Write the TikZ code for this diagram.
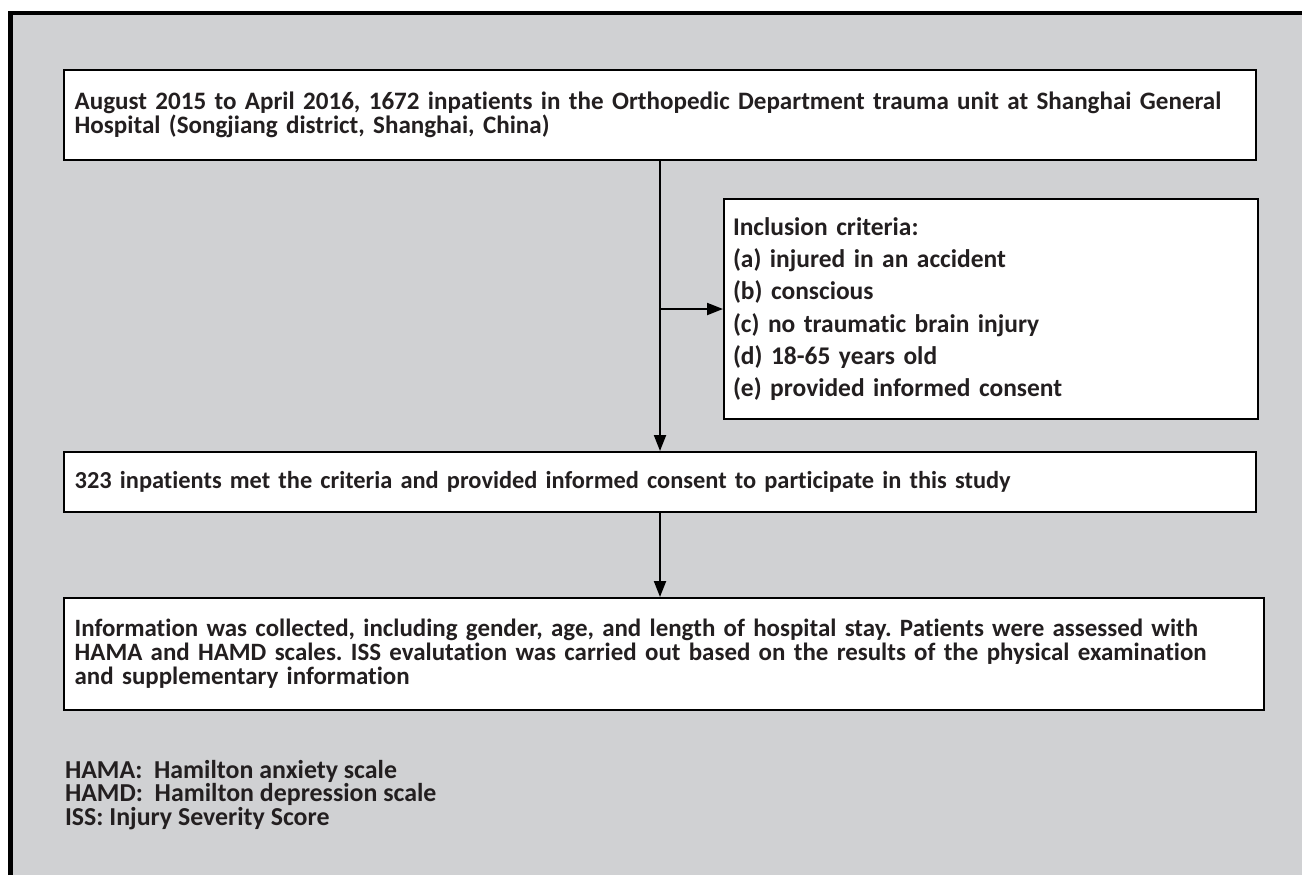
\documentclass[tikz,border=0pt]{standalone}
\usepackage{fontspec}
\setmainfont{Carlito}[Ligatures=NoCommon]
\usetikzlibrary{arrows.meta}
\definecolor{panel}{RGB}{208,209,211}
\definecolor{ink}{RGB}{35,31,32}
\frenchspacing

\begin{document}
\begin{tikzpicture}[>={Triangle[length=12pt, width=9pt]}, x=0.75pt, y=-0.75pt]
    \tikzstyle{box} = [draw=black, line width=1.5pt, fill=white, text=ink,
	align=left, inner xsep=8pt, font=\fontsize{18.8}{16.9}\selectfont\bfseries]
	\useasboundingbox (0,0) rectangle (1302,875);
	\fill[panel] (13,15) rectangle (1302,875);
	\draw[line width=3.4pt] (10.5,875) -- (10.5,13) -- (1302,13);
	\begin{scope}
		\path[->, line width=1.5pt]
			node[box, text width=878pt, minimum height=67.5pt] (start) at (660,115)
				{August 2015 to April 2016, 1672 inpatients in the Orthopedic Department trauma unit at Shanghai General\\
				 Hospital (Songjiang district, Shanghai, China)}
			node[box, text width=387pt, inner xsep=6.75pt, minimum height=165pt,
				font=\fontsize{19.1}{24.1}\selectfont\bfseries] (crit) at (991,309)
				{Inclusion criteria:\\
				 (a) injured in an accident\\
				 (b) conscious\\
				 (c) no traumatic brain injury\\
				 (d) 18-65 years old\\
				 (e) provided informed consent}
			node[box, text width=878pt, minimum height=45pt,
				font=\fontsize{18.3}{17}\selectfont\bfseries] (met) at (660,482)
				{323 inpatients met the criteria and provided informed consent to participate in this study}
			node[box, text width=884pt, minimum height=84pt,
				font=\fontsize{18.7}{18}\selectfont\bfseries] (info) at (664,654)
				{Information was collected, including gender, age, and length of hospital stay. Patients were assessed with\\
				 HAMA and HAMD scales. ISS evalutation was carried out based on the results of the physical examination\\
				 and supplementary information}
			coordinate (split) at (start.south |- crit.west)
			coordinate (entry) at (met.south |- info.north)

			(start) edge (met)
			(split) edge (crit)
			(met) edge (entry)

			node[anchor=north west, inner sep=0pt, align=left, text=ink,
				font=\fontsize{19.4}{15.75}\selectfont\bfseries] (abbr) at (64,759)
				{HAMA:\ \ Hamilton anxiety scale\\
				 HAMD:\ \ Hamilton depression scale\\
				 ISS: Injury Severity Score}
		;
	\end{scope}
\end{tikzpicture}
\end{document}
